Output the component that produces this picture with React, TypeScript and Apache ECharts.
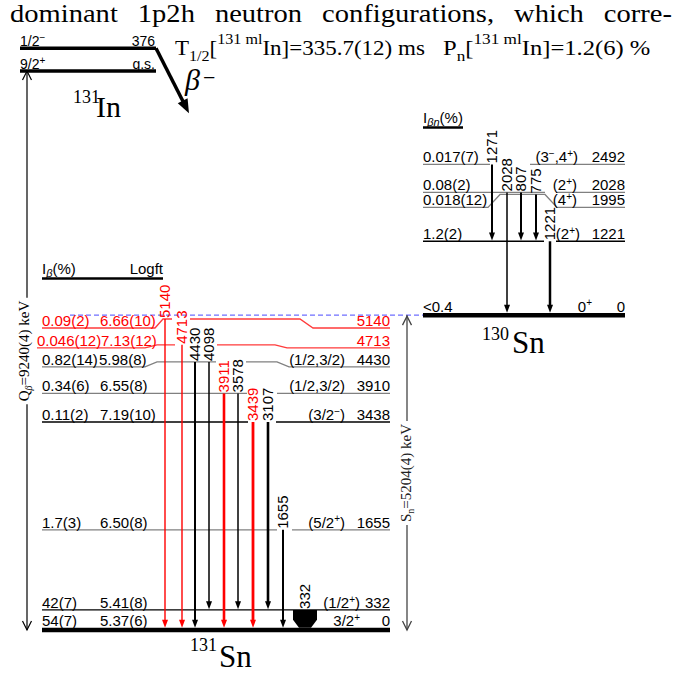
import React, { useEffect, useRef } from 'react';
import * as echarts from 'echarts';

const SANS = '"Liberation Sans", Arial, Helvetica, sans-serif';
const SERIF = '"Liberation Serif", "Times New Roman", Times, serif';

// ================= data =================
const qBeta = 9240; // keV
const qBetaText = '9240(4)';
const sN = 5204; // keV
const sNText = '5204(4)';
const halfLife = '335.7(12) ms';
const pN = '1.2(6) %';

// 131In parent
const inLevels = [0, 376];
const inSpins = ['9/2^+', '1/2^-'];
const inNames = ['g.s.', '376'];

// 131Sn levels
const snLevels = [0, 332, 1655, 3438, 3910, 4430, 4713, 5140];
const snSpins = ['3/2^+', '(1/2^+)', '(5/2^+)', '(3/2^-)', '(1/2,3/2)', '(1/2,3/2)', '', ''];
const snIbeta = ['54(7)', '42(7)', '1.7(3)', '0.11(2)', '0.34(6)', '0.82(14)', '0.046(12)', '0.09(2)'];
const snLogft = ['5.37(6)', '5.41(8)', '6.50(8)', '7.19(10)', '6.55(8)', '5.98(8)', '7.13(12)', '6.66(10)'];
const snLevelNew = [false, false, false, false, false, false, true, true];

// 131Sn gamma transitions
const snGammas = [5140, 4713, 4430, 4098, 3911, 3578, 3439, 3107, 1655, 332];
const snGammaFrom = [5140, 4713, 4430, 4430, 3910, 3910, 3438, 3438, 1655, 332];
const snGammaTo = [0, 0, 0, 332, 0, 332, 0, 332, 0, 0];
const snGammaNew = [true, true, false, false, true, false, true, false, false, false];

// 130Sn levels (beta-delayed neutron branch)
const sn130Levels = [0, 1221, 1995, 2028, 2492];
const sn130Spins = ['0^+', '(2^+)', '(4^+)', '(2^+)', '(3^-,4^+)'];
const sn130Ibn = ['<0.4', '1.2(2)', '0.018(12)', '0.08(2)', '0.017(7)'];

const sn130Gammas = [1271, 2028, 807, 775, 1221];
const sn130GammaFrom = [2492, 2028, 2028, 1995, 1221];
const sn130GammaTo = [1221, 0, 1221, 1221, 0];

const titleWords = ['dominant', '1p2h', 'neutron', 'configurations,', 'which', 'corre-'];

// ================= layout / style =================
const W = 685;
const H = 675;
const Y_MIN = -744;
const Y_MAX = 10413;
const RED = '#ff0000';
const RED_LINE = '#ff3b3b';
const GRAY = '#808080';
const BLACK = '#000000';
const LBL = 15;

const snPaths: number[][][][] = [
  [[[42, 0], [390, 0]]],
  [[[42, 0], [390, 0]]],
  [[[42, 0], [277, 0]], [[292, 0], [390, 0]]],
  [[[42, 0], [248, 0]], [[276, 0], [390, 0]]],
  [[[42, 0], [247, 0]], [[277, 0], [390, 0]]],
  [[[42, 5], [145, 5], [157, 0], [216, 0]], [[246, 0], [277, 0], [289, 5], [390, 5]]],
  [[[37, 3], [145, 3], [157, 0], [175, 0]], [[217, 0], [275, 0], [287, 3], [390, 3]]],
  [[[42, 9], [155, 9], [163, 0], [172, 0]], [[190, 0], [300, 0], [313, 9], [390, 9]]],
];
const snLineColor = [BLACK, BLACK, GRAY, BLACK, GRAY, GRAY, RED_LINE, RED_LINE];
const snLineWidth = [4.5, 1.3, 1.3, 1.3, 1.3, 1.3, 1.3, 1.3];
const snIbetaX = [42, 42, 42, 42, 42, 42, 37, 42];
const snLogftX = [100, 100, 100, 100, 100, 99, 101, 100];
const snSpinRight = [360, 360, 345, 345, 345, 345, 345, 345];
const snEnergyRight = 390;
const snGammaX = [165, 182, 195, 209, 224, 238, 253, 268, 283, 305];
const snGammaWidth = [1.4, 1.4, 2, 1.5, 2.6, 1.5, 2.8, 2.6, 2, 24];

const sn130Paths: number[][][][] = [
  [[[423, 0], [625, 0]]],
  [[[423, 0], [544, 0]], [[556, 0], [625, 0]]],
  [[[423, 13], [488, 13], [500, 0], [545, 0], [557, 13], [625, 13]]],
  [[[423, 0], [545, 0]], [[556, 0], [625, 0]]],
  [[[423, 0], [490, 0]], [[530, 0], [625, 0]]],
];
const sn130LineColor = [BLACK, BLACK, GRAY, GRAY, GRAY];
const sn130LineWidth = [4.5, 1.3, 1.3, 1.3, 1.3];
const sn130SpinRight = [592, 580, 577, 577, 578];
const sn130EnergyRight = 625;
const sn130IbnX = 423;
const sn130GammaX = [492, 507, 521, 536, 550];
const sn130GammaWidth = [2, 1.5, 2, 2, 2.5];

const inLineX = [20, 156];
const inLineWidth = 3.5;
const betaTip = [33, 65];

const qArrowX = 27;
const qLabelY = 351;
const snArrowX = 407;
const snLabelY = 473;
const dashX = [70, 425];

// ================= helpers =================
function rt(markup: string, size: number, family: string, color: string, o: any = {}) {
  const ss = o.supSize ?? Math.round(size * 0.68);
  const raise = o.supRaise ?? size * 0.36;
  const drop = o.subDrop ?? size * 0.22;
  const B = 0.84;
  const C = 0.34;
  const base = B * size;
  const supH = Math.max(1, 2 * (base - raise - C * ss));
  const subH = 2 * (base + drop - C * ss);
  const norm = markup.replace(/\^([+\-])/g, '^{$1}');
  let out = '';
  let last = 0;
  const re = /([\^_])\{([^}]*)\}/g;
  let m: any;
  while ((m = re.exec(norm))) {
    if (m.index > last) out += `{m|${norm.slice(last, m.index)}}`;
    out += `{${m[1] === '^' ? 'u' : 'd'}|${m[2].replace(/-/g, '\u2212')}}`;
    last = m.index + m[0].length;
  }
  if (last < norm.length) out += `{m|${norm.slice(last)}}`;
  const it = o.italic ? 'italic ' : '';
  return {
    text: out,
    rich: {
      m: { font: `${it}${size}px ${family}`, fill: color, height: size, verticalAlign: 'top' },
      u: { font: `${ss}px ${family}`, fill: color, height: supH, verticalAlign: 'top' },
      d: { font: `${o.subItalic ? 'italic ' : ''}${ss}px ${family}`, fill: color, height: subH, verticalAlign: 'top' },
    },
  };
}

function styleOf(markup: string, size: number, family: string, color: string, align: string, o: any) {
  const r = rt(markup, size, family, color, o);
  const s: any = {
    text: r.text,
    rich: r.rich,
    font: `${size}px ${family}`,
    fill: color,
    align,
    textAlign: align,
    verticalAlign: 'top',
    textVerticalAlign: 'top',
  };
  if (o.bg) {
    s.backgroundColor = o.bg;
    s.padding = o.pad ?? [0, 3];
  }
  return s;
}

function hText(x: number, baseline: number, markup: string, size: number, family: string, color: string, align = 'left', o: any = {}) {
  const el: any = { type: 'text', x, y: baseline - 0.84 * size, silent: true, z2: 10, style: styleOf(markup, size, family, color, align, o) };
  if (o.scaleX) el.scaleX = o.scaleX;
  return el;
}

function vText(xAnchor: number, y: number, markup: string, size: number, family: string, color: string, align = 'left', o: any = {}) {
  return { type: 'text', x: xAnchor, y, rotation: Math.PI / 2, silent: true, z2: 10, style: styleOf(markup, size, family, color, align, o) };
}

const line = (x1: number, y1: number, x2: number, y2: number, stroke: string, lineWidth: number, extra: any = {}) => ({
  type: 'line', silent: true, shape: { x1, y1, x2, y2 }, style: { stroke, lineWidth, ...extra },
});
const poly = (points: number[][], stroke: string, lineWidth: number) => ({
  type: 'polyline', silent: true, shape: { points }, style: { stroke, lineWidth, fill: 'none' },
});
const polygon = (points: number[][], fill: string) => ({ type: 'polygon', silent: true, shape: { points }, style: { fill } });

const px = (api: any, x: number) => api.coord([x, 0])[0];
const py = (api: any, e: number) => api.coord([0, e])[1];

function arrowDown(x: number, y1: number, y2: number, color: string, w: number) {
  return [line(x, y1, x, y2 - 7, color, w), polygon([[x - 3, y2 - 8], [x + 3, y2 - 8], [x, y2]], color)];
}
const openHead = (x: number, y: number, dir: number, color: string, w: number) =>
  poly([[x - 4.5, y - dir * 9], [x, y], [x + 4.5, y - dir * 9]], color, w);

function levelChildren(api: any, y: number, paths: number[][][], color: string, w: number) {
  return paths.map((pl) => poly(pl.map(([x, dy]) => [px(api, x), y + dy]), color, w));
}

function measure(text: string, font: string) {
  const c = document.createElement('canvas').getContext('2d') as CanvasRenderingContext2D;
  c.font = font;
  return c.measureText(text).width;
}

function buildOption() {
  // justified title line (wider glyphs via scaleX, like the original font)
  const tSize = 25;
  const tFont = `${tSize}px ${SERIF}`;
  const widths = titleWords.map((w) => measure(w, tFont));
  const total = widths.reduce((a, b) => a + b, 0);
  const gapT = 20;
  const scale = (672 - 10 - gapT * (titleWords.length - 1)) / total;
  let cx = 10;
  const titleEls = titleWords.map((w, i) => {
    const el = hText(cx, 22, w, tSize, SERIF, BLACK, 'left', { scaleX: scale });
    cx += widths[i] * scale + gapT;
    return el;
  });

  const hdrT = { supRaise: 11, subDrop: 6, supSize: 14, scaleX: 1.15 };
  const hdrP = { supRaise: 11, subDrop: 6, supSize: 14, scaleX: 1.23 };
  const graphicEls: any[] = [
    ...titleEls,
    hText(175, 55, `T_{1/2}[^{131 ml}In]=${halfLife}`, 20, SERIF, BLACK, 'left', hdrT),
    hText(443, 55, `P_{n}[^{131 ml}In]=${pN}`, 20, SERIF, BLACK, 'left', hdrP),
    hText(73, 103, '131', 18, SERIF, BLACK),
    hText(96, 117, 'In', 30, SERIF, BLACK),
    hText(185, 90, 'β', 30, SERIF, BLACK, 'left', { italic: true }),
    hText(203, 85, '\u2212', 22, SERIF, BLACK),
    hText(482, 340, '130', 18, SERIF, BLACK),
    hText(512, 353, 'Sn', 31, SERIF, BLACK),
    hText(190, 651, '131', 18, SERIF, BLACK),
    hText(219, 667, 'Sn', 31, SERIF, BLACK),
    // table headers
    hText(42, 274, 'I_{β}(%)', LBL, SANS, BLACK, 'left', { subItalic: true, subDrop: 3, supSize: 11 }),
    hText(163, 274, 'Logft', LBL, SANS, BLACK, 'right'),
    line(42, 278.5, 163, 278.5, BLACK, 2.5),
    hText(423, 123, 'I_{βn}(%)', LBL, SANS, BLACK, 'left', { subItalic: true, subDrop: 3, supSize: 11 }),
    line(423, 127.5, 463, 127.5, BLACK, 2.5),
  ];

  const series: any[] = [
    // 131In parent levels + beta arrow
    {
      type: 'custom',
      coordinateSystem: 'cartesian2d',
      silent: true,
      z: 3,
      data: inLevels.map((e) => [0, qBeta + e]),
      renderItem: (params: any, api: any) => {
        const i = params.dataIndex;
        const y = py(api, api.value(1));
        const x1 = px(api, inLineX[0]);
        const x2 = px(api, inLineX[1]);
        const ch: any[] = [line(x1, y, x2, y, BLACK, inLineWidth)];
        ch.push(hText(x1, y - 2.5, inSpins[i], 14, SANS, BLACK, 'left', { supSize: 10, supRaise: 5 }));
        ch.push(hText(x2 - 1, y - 2.5, inNames[i], 14, SANS, BLACK, 'right'));
        if (i === 1) {
          const [dx, dy] = betaTip;
          const len = Math.hypot(dx, dy);
          const ux = dx / len;
          const uy = dy / len;
          const nx = -uy;
          const ny = ux;
          const tx = x2 + dx;
          const ty = y + dy;
          const bx = tx - ux * 14;
          const by = ty - uy * 14;
          ch.push(line(x2, y, bx + ux * 2, by + uy * 2, BLACK, 3.5));
          ch.push(polygon([[tx, ty], [bx + nx * 5.5, by + ny * 5.5], [bx - nx * 5.5, by - ny * 5.5]], BLACK));
        }
        return { type: 'group', children: ch };
      },
    },
    // Q-beta and S-n brackets
    {
      type: 'custom',
      coordinateSystem: 'cartesian2d',
      silent: true,
      z: 2,
      data: [[0, qBeta], [0, sN]],
      renderItem: (params: any, api: any) => {
        const i = params.dataIndex;
        const yE = py(api, api.value(1));
        const y0 = py(api, 0);
        const ch: any[] = [];
        if (i === 0) {
          const x = px(api, qArrowX);
          ch.push(line(x, yE, x, y0, BLACK, 1.2));
          ch.push(openHead(x, y0, 1, BLACK, 1.2));
          ch.push(openHead(x, yE, -1, BLACK, 1.2));
          ch.push(vText(x - 10.2, qLabelY, `Q_{β}=${qBetaText} keV`, 15, SERIF, BLACK, 'center', { bg: '#ffffff', pad: [0, 3], subItalic: true, subDrop: 3, supSize: 10 }));
        } else {
          const x = px(api, snArrowX);
          ch.push(line(px(api, dashX[0]), yE, px(api, dashX[1]), yE, '#6f6fff', 1.3, { lineDash: [5, 3] }));
          ch.push(line(x, yE, x, y0, '#444444', 1.3));
          ch.push(openHead(x, y0, 1, '#444444', 1.3));
          ch.push(openHead(x, yE + 1, -1, '#444444', 1.3));
          ch.push(vText(x - 8.5, snLabelY, `S_{n}=${sNText} keV`, 15, SERIF, '#222222', 'center', { bg: '#ffffff', pad: [0, 3], subDrop: 3, supSize: 10 }));
        }
        return { type: 'group', children: ch };
      },
    },
    // 131Sn levels
    {
      type: 'custom',
      coordinateSystem: 'cartesian2d',
      silent: true,
      z: 3,
      data: snLevels.map((e) => [0, e]),
      renderItem: (params: any, api: any) => {
        const i = params.dataIndex;
        const y = py(api, api.value(1));
        const w = snLineWidth[i];
        const tc = snLevelNew[i] ? RED : BLACK;
        const ch: any[] = levelChildren(api, y, snPaths[i], snLineColor[i], w);
        const pth = snPaths[i];
        const lastPl = pth[pth.length - 1];
        const off = w > 3 ? 4 : 2.5;
        const yl = y + pth[0][0][1] - off;
        const yr = y + lastPl[lastPl.length - 1][1] - off;
        ch.push(hText(px(api, snIbetaX[i]), yl, snIbeta[i], LBL, SANS, tc));
        ch.push(hText(px(api, snLogftX[i]), yl, snLogft[i], LBL, SANS, tc));
        if (snSpins[i]) ch.push(hText(px(api, snSpinRight[i]), yr, snSpins[i], LBL, SANS, tc, 'right', { supSize: 10, supRaise: 5 }));
        ch.push(hText(px(api, snEnergyRight), yr, String(snLevels[i]), LBL, SANS, tc, 'right'));
        return { type: 'group', children: ch };
      },
    },
    // 131Sn transitions
    {
      type: 'custom',
      coordinateSystem: 'cartesian2d',
      silent: true,
      z: 4,
      data: snGammas.map((g, i) => [0, snGammaFrom[i], snGammaTo[i]]),
      renderItem: (params: any, api: any) => {
        const i = params.dataIndex;
        const x = px(api, snGammaX[i]);
        const y1 = py(api, api.value(1));
        const toE = api.value(2);
        const y2 = py(api, toE) - (toE === 0 ? 2.3 : 0.7);
        const color = snGammaNew[i] ? RED : BLACK;
        const w = snGammaWidth[i];
        let ch: any[] = [];
        if (w > 10) {
          const h = w / 2;
          ch.push(polygon([[x - h, y1], [x + h, y1], [x + h, y2 - 8], [x + h / 2, y2], [x - h / 2, y2], [x - h, y2 - 8]], color));
        } else {
          ch = ch.concat(arrowDown(x, y1, y2, color, w));
        }
        ch.push(vText(x - 8.5, y1 - 1, String(snGammas[i]), LBL, SANS, color));
        return { type: 'group', children: ch };
      },
    },
    // 130Sn levels
    {
      type: 'custom',
      coordinateSystem: 'cartesian2d',
      silent: true,
      z: 3,
      data: sn130Levels.map((e) => [0, sN + e]),
      renderItem: (params: any, api: any) => {
        const i = params.dataIndex;
        const y = py(api, api.value(1));
        const w = sn130LineWidth[i];
        const ch: any[] = levelChildren(api, y, sn130Paths[i], sn130LineColor[i], w);
        const pth = sn130Paths[i];
        const lastPl = pth[pth.length - 1];
        const off = w > 3 ? 4 : 2.5;
        const yl = y + pth[0][0][1] - off;
        const yr = y + lastPl[lastPl.length - 1][1] - off;
        ch.push(hText(px(api, sn130IbnX), yl, sn130Ibn[i], LBL, SANS, BLACK));
        ch.push(hText(px(api, sn130SpinRight[i]), yr, sn130Spins[i], LBL, SANS, BLACK, 'right', { supSize: 10, supRaise: 5 }));
        ch.push(hText(px(api, sn130EnergyRight), yr, String(sn130Levels[i]), LBL, SANS, BLACK, 'right'));
        return { type: 'group', children: ch };
      },
    },
    // 130Sn transitions
    {
      type: 'custom',
      coordinateSystem: 'cartesian2d',
      silent: true,
      z: 4,
      data: sn130Gammas.map((g, i) => [0, sN + sn130GammaFrom[i], sN + sn130GammaTo[i]]),
      renderItem: (params: any, api: any) => {
        const i = params.dataIndex;
        const x = px(api, sn130GammaX[i]);
        const y1 = py(api, api.value(1));
        const toE = api.value(2);
        const y2 = py(api, toE) - (toE === sN ? 2.3 : 0.7);
        const ch: any[] = arrowDown(x, y1, y2, BLACK, sn130GammaWidth[i]);
        ch.push(vText(x - 8.5, y1 - 1, String(sn130Gammas[i]), LBL, SANS, BLACK));
        return { type: 'group', children: ch };
      },
    },
  ];

  return {
    animation: false,
    backgroundColor: '#ffffff',
    grid: { left: 0, right: 0, top: 0, bottom: 0 },
    xAxis: { type: 'value', min: 0, max: W, show: false },
    yAxis: { type: 'value', min: Y_MIN, max: Y_MAX, show: false },
    graphic: { elements: graphicEls },
    series,
  };
}

export default function App() {
  const ref = useRef<HTMLDivElement>(null);
  useEffect(() => {
    const chart = echarts.init(ref.current as HTMLDivElement, null, { renderer: 'svg' });
    chart.setOption(buildOption() as any);
    return () => chart.dispose();
  }, []);
  return <div ref={ref} style={{ position: 'fixed', left: 0, top: 0, width: W, height: H, background: '#fff' }} />;
}
